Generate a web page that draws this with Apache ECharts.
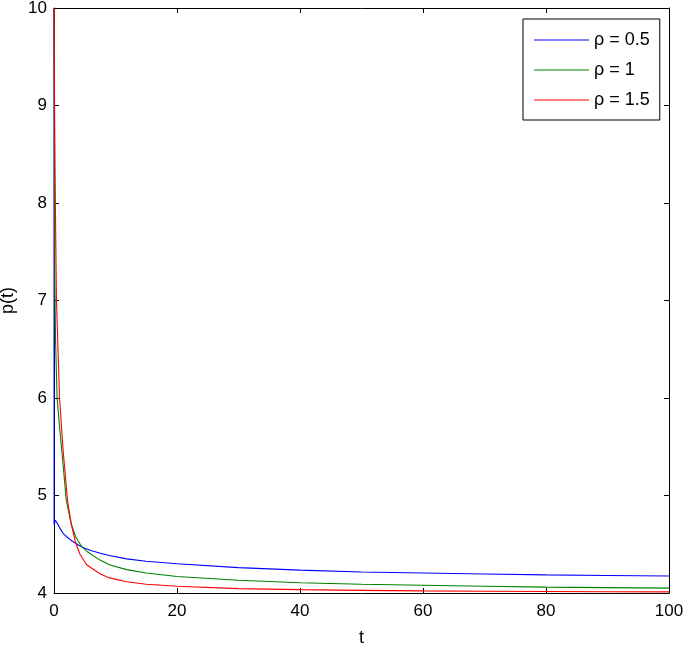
<!DOCTYPE html>
<html>
<head>
<meta charset="utf-8">
<script src="https://cdn.jsdelivr.net/npm/echarts@6/dist/echarts.min.js"></script>
<style>html,body{margin:0;padding:0;background:#fff}#c{width:685px;height:649px}</style>
</head>
<body>
<div id="c"></div>
<script>
var seriesNames = ['ρ = 0.5', 'ρ = 1', 'ρ = 1.5'];
var seriesColors = ['#0000ff', '#008000', '#ff0000'];
var xTicks = [0, 20, 40, 60, 80, 100];
var yTicks = [4, 5, 6, 7, 8, 9, 10];

var rho05 = [[0,10],[0.02,4.70],[0.2,4.745],[0.5,4.72],[1,4.66],[1.5,4.61],[2,4.58],[3,4.53],[4,4.49],[5,4.46],[6,4.435],[7.4,4.41],[9,4.385],[11.8,4.35],[15,4.325],[20,4.30],[30,4.26],[40,4.235],[50,4.215],[60,4.205],[70,4.195],[80,4.186],[90,4.18],[100,4.175]];
var rho1 = [[0,10],[0.04,9],[0.08,8],[0.13,7.2],[0.25,6.6],[0.5,6.0],[1.0,5.64],[1.5,5.3],[2.0,4.95],[2.8,4.71],[3.5,4.58],[4.5,4.475],[5.5,4.42],[7.4,4.34],[9,4.29],[11.8,4.24],[15,4.205],[20,4.17],[30,4.13],[40,4.105],[50,4.09],[60,4.08],[70,4.07],[80,4.06],[90,4.055],[100,4.05]];
var rho15 = [[0,10],[0.1,8.9],[0.22,8.0],[0.4,7.0],[0.9,6.0],[1.5,5.45],[2.2,4.95],[2.8,4.71],[3.5,4.52],[4.2,4.4],[5.3,4.29],[7.4,4.2],[9,4.155],[11.8,4.115],[15,4.09],[20,4.07],[30,4.045],[40,4.035],[50,4.027],[60,4.022],[70,4.018],[80,4.015],[90,4.013],[100,4.012]];
var allData = [rho05, rho1, rho15];

var font = '"Liberation Sans", Arial, Helvetica, sans-serif';
var chart = echarts.init(document.getElementById('c'), null, {renderer: 'canvas'});

function xAxisCfg(pos, show) {
  return {
    type: 'value', position: pos, min: xTicks[0], max: xTicks[xTicks.length-1], interval: 20,
    axisLine: {show: true, onZero: false, lineStyle: {color: '#000', width: 1}},
    axisTick: {show: true, inside: true, length: 5, lineStyle: {color: '#000'}},
    axisLabel: {show: show, color: '#000', fontSize: 17, fontFamily: font, margin: 10},
    splitLine: {show: false},
    name: show ? 't' : '', nameLocation: 'middle', nameGap: 36,
    nameTextStyle: {color: '#000', fontSize: 18, fontFamily: font}
  };
}
function yAxisCfg(pos, show) {
  return {
    type: 'value', position: pos, min: yTicks[0], max: yTicks[yTicks.length-1], interval: 1,
    axisLine: {show: true, onZero: false, lineStyle: {color: '#000', width: 1}},
    axisTick: {show: true, inside: true, length: 5, lineStyle: {color: '#000'}},
    axisLabel: {show: show, color: '#000', fontSize: 17, fontFamily: font, margin: 7},
    splitLine: {show: false},
    name: show ? 'p(t)' : '', nameLocation: 'middle', nameGap: 34, nameRotate: 90,
    nameTextStyle: {color: '#000', fontSize: 18, fontFamily: font}
  };
}

var series = seriesNames.map(function (n, i) {
  return {
    name: n, type: 'line', data: allData[i], xAxisIndex: 0, yAxisIndex: 0,
    showSymbol: false, symbol: 'none', smooth: false,
    lineStyle: {color: seriesColors[i], width: 1.1}, itemStyle: {color: seriesColors[i]},
    animation: false
  };
});

chart.setOption({
  animation: false,
  backgroundColor: '#fff',
  grid: {left: 54, right: 16, top: 8, bottom: 56, containLabel: false, outerBoundsMode: 'none'},
  xAxis: [xAxisCfg('bottom', true), xAxisCfg('top', false)],
  yAxis: [yAxisCfg('left', true), yAxisCfg('right', false)],
  legend: {
    show: true, orient: 'vertical', left: 523, top: 19,
    padding: [11, 10, 10, 11], itemGap: 10, itemWidth: 55, itemHeight: 1,
    icon: 'rect', backgroundColor: '#fff', borderColor: '#000', borderWidth: 1,
    textStyle: {color: '#000', fontSize: 18, fontFamily: font, lineHeight: 20},
    data: seriesNames
  },
  series: series
});
</script>
</body>
</html>
